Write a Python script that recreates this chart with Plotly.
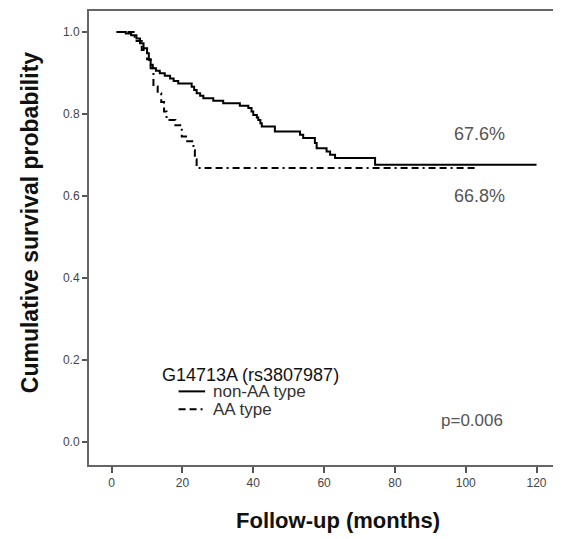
import plotly.graph_objects as go

# ---- data ----
non_aa_months = [1.4, 4, 5.5, 7, 8, 9, 10, 10.5, 11, 11.6, 12.5, 13.6, 15, 16.5, 17.5, 18.8,
                 22.6, 23.3, 24, 25, 25.9, 28.7, 31.5, 36.2, 38.6, 39.5, 40, 41, 41.4, 42, 42.4,
                 46.1, 53.2, 54.1, 57.4, 57.9, 60.7, 61.7, 63.1, 74.4, 120]
non_aa_surv = [1.0, 0.996, 0.992, 0.984, 0.972, 0.960, 0.948, 0.932, 0.920, 0.911, 0.905, 0.899,
               0.893, 0.886, 0.880, 0.874, 0.866, 0.858, 0.850, 0.844, 0.838, 0.832, 0.826, 0.820,
               0.814, 0.806, 0.797, 0.791, 0.785, 0.777, 0.769, 0.757, 0.749, 0.741, 0.729, 0.716,
               0.708, 0.700, 0.692, 0.676, 0.676]

aa_months = [1.4, 6.5, 8.5, 10, 11, 11.8, 13, 14, 14.8, 15.5, 18, 19.8, 21, 23.1, 23.5, 24, 103]
aa_surv = [1.0, 0.978, 0.956, 0.933, 0.911, 0.867, 0.850, 0.829, 0.806, 0.785, 0.772, 0.745,
           0.733, 0.711, 0.689, 0.668, 0.668]

x_ticks = [0, 20, 40, 60, 80, 100, 120]
y_ticks = [0.0, 0.2, 0.4, 0.6, 0.8, 1.0]
y_tick_labels = ["0.0", "0.2", "0.4", "0.6", "0.8", "1.0"]

series_names = ["non-AA type", "AA type"]
final_labels = ["67.6%", "66.8%"]
group_title = "G14713A (rs3807987)"
p_text = "p=0.006"

FONT = "Liberation Sans, Arial, sans-serif"
DASH = "7px,4px,7px,4px,2px,4px"

fig = go.Figure()
fig.add_trace(go.Scatter(x=non_aa_months, y=non_aa_surv, mode="lines", name=series_names[0],
                         line=dict(color="black", width=2, shape="hv"), showlegend=False))
fig.add_trace(go.Scatter(x=aa_months, y=aa_surv, mode="lines", name=series_names[1],
                         line=dict(color="black", width=2, shape="hv", dash=DASH), showlegend=False))

# manual legend samples
fig.add_shape(type="line", xref="x", yref="y", x0=18.9, x1=26.4, y0=0.1227, y1=0.1227,
              line=dict(color="black", width=2))
fig.add_shape(type="line", xref="x", yref="y", x0=18.9, x1=26.4, y0=0.079, y1=0.079,
              line=dict(color="black", width=2, dash=DASH))

annotations = [
    dict(x=13.6, y=0.162, xref="x", yref="y", text=group_title, showarrow=False,
         xanchor="left", yanchor="middle", font=dict(family=FONT, size=18, color="#111")),
    dict(x=28, y=0.1227, xref="x", yref="y", text=series_names[0], showarrow=False,
         xanchor="left", yanchor="middle", font=dict(family=FONT, size=17, color="#333")),
    dict(x=28, y=0.079, xref="x", yref="y", text=series_names[1], showarrow=False,
         xanchor="left", yanchor="middle", font=dict(family=FONT, size=17, color="#333")),
    dict(x=104, y=0.750, xref="x", yref="y", text=final_labels[0], showarrow=False,
         xanchor="center", yanchor="middle", font=dict(family=FONT, size=18, color="#555")),
    dict(x=104, y=0.599, xref="x", yref="y", text=final_labels[1], showarrow=False,
         xanchor="center", yanchor="middle", font=dict(family=FONT, size=18, color="#555")),
    dict(x=101.8, y=0.052, xref="x", yref="y", text=p_text, showarrow=False,
         xanchor="center", yanchor="middle", font=dict(family=FONT, size=17, color="#555")),
    dict(x=0.533, y=-0.1228, xref="paper", yref="paper", text="<b>Follow-up (months)</b>",
         showarrow=False, xanchor="center", yanchor="middle",
         font=dict(family=FONT, size=22, color="#111")),
    dict(x=-0.126, y=0.533, xref="paper", yref="paper", text="<b>Cumulative survival probability</b>",
         showarrow=False, xanchor="center", yanchor="middle", textangle=-90,
         font=dict(family=FONT, size=23, color="#111")),
]

# the page body adds an 8px margin, so the figure is sized to land the plot area
# where the reference has it inside the 561x539 window
fig.update_layout(
    width=553, height=531,
    margin=dict(l=81, r=5, t=1, b=74),
    paper_bgcolor="white", plot_bgcolor="white",
    annotations=annotations,
    xaxis=dict(range=[-6.4, 125.5], tickvals=x_ticks, ticks="outside", ticklen=6, tickwidth=1.5,
               tickcolor="#555", showline=True, linecolor="#666", linewidth=2, mirror=True,
               showgrid=False, zeroline=False, tickfont=dict(family=FONT, size=12, color="#444")),
    yaxis=dict(range=[-0.057, 1.051], tickvals=y_ticks, ticktext=y_tick_labels, ticks="outside",
               ticklen=5, tickwidth=1.5, tickcolor="#555", showline=True, linecolor="#666",
               linewidth=2, mirror=True, showgrid=False, zeroline=False,
               tickfont=dict(family=FONT, size=12, color="#444")),
)

fig.write_html("out.html")
